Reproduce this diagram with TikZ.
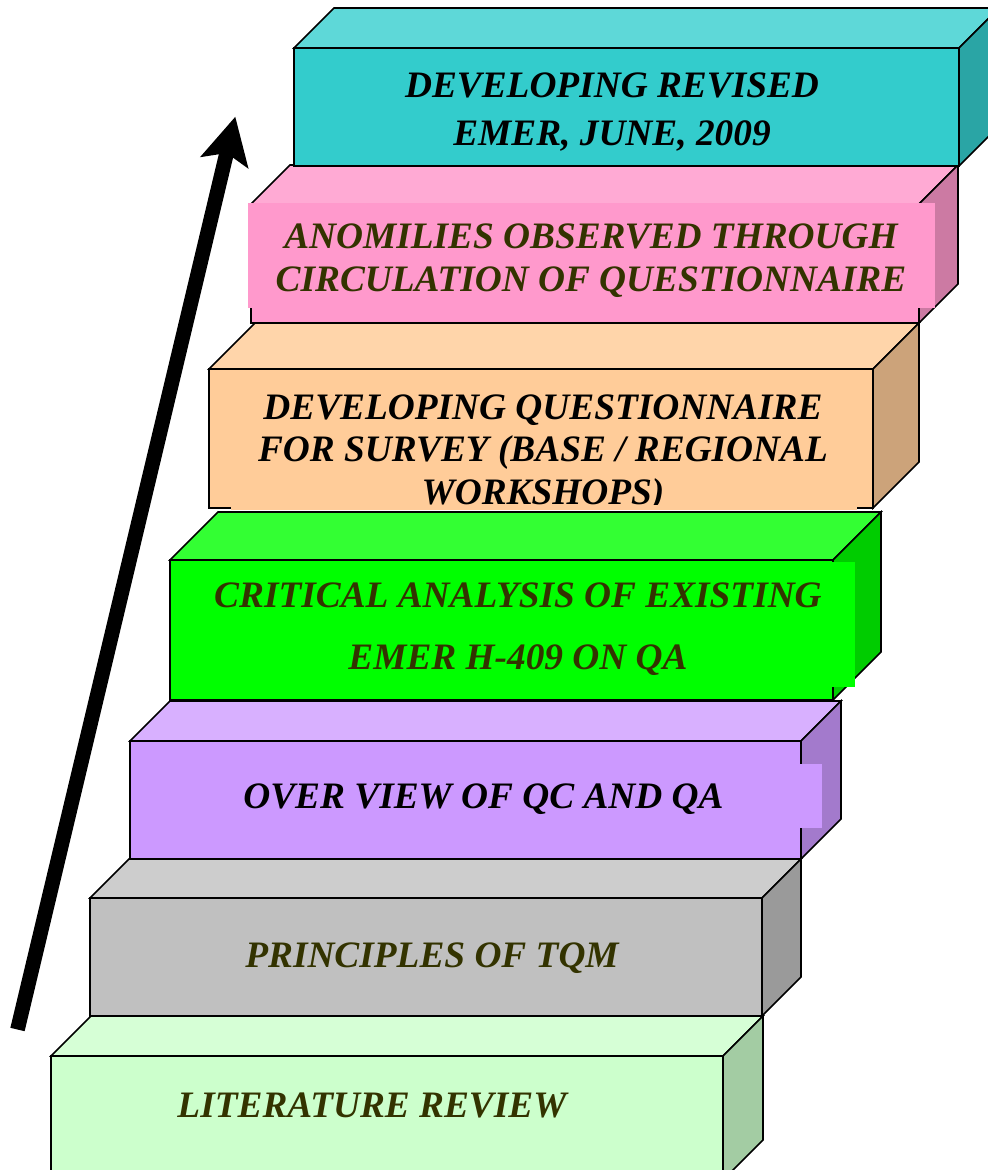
\documentclass[tikz,border=0pt]{standalone}
\usepackage{fontspec}
\setmainfont{Liberation Serif}
\usetikzlibrary{arrows.meta}

% face colours: front / top / side of every step
\definecolor{tealFront}{HTML}{33CCCC}
\definecolor{tealTop}{HTML}{5ED8D8}
\definecolor{tealSide}{HTML}{2AA5A5}
\definecolor{pinkFront}{HTML}{FF99CC}
\definecolor{pinkTop}{HTML}{FFAAD4}
\definecolor{pinkSide}{HTML}{CC7AA3}
\definecolor{peachFront}{HTML}{FFCC99}
\definecolor{peachTop}{HTML}{FFD5AA}
\definecolor{peachSide}{HTML}{CCA37A}
\definecolor{limeFront}{HTML}{00FF00}
\definecolor{limeTop}{HTML}{33FF33}
\definecolor{limeSide}{HTML}{00CC00}
\definecolor{lilacFront}{HTML}{CC99FF}
\definecolor{lilacTop}{HTML}{D8B0FF}
\definecolor{lilacSide}{HTML}{A37ACC}
\definecolor{greyFront}{HTML}{C0C0C0}
\definecolor{greyTop}{HTML}{CDCDCD}
\definecolor{greySide}{HTML}{9A9A9A}
\definecolor{mintFront}{HTML}{CCFFCC}
\definecolor{mintTop}{HTML}{D6FFD6}
\definecolor{mintSide}{HTML}{A3CCA3}
\definecolor{olive}{HTML}{333300}

\tikzset{
  edge/.style={draw=black, line width=1.2pt},
  lbl/.style={align=center, inner sep=0pt},
  climb/.style={line width=11pt, line cap=butt,
    -{Stealth[length=35pt 0 0, width=36pt 0 0, inset=7pt 0 0]}},
}

% one step of the stair: x1 y1 x2 y2 (front face), depth, front/top/side colours
\newcommand\stairblock[8]{%
  \filldraw[edge, fill=#7] (#1,#2) -- ({#1+#5},{#2-#5}) -- ({#3+#5},{#2-#5}) -- (#3,#2) -- cycle;
  \filldraw[edge, fill=#8] (#3,#2) -- ({#3+#5},{#2-#5}) -- ({#3+#5},{#4-#5}) -- (#3,#4) -- cycle;
  \filldraw[edge, fill=#6] (#1,#2) rectangle (#3,#4);
}

\begin{document}
\begin{tikzpicture}[x=0.75pt, y=-0.75pt]
\useasboundingbox (0,0) rectangle (988,1170);
\clip (0,0) rectangle (988,1170);

% steps, from the bottom up
\stairblock{51}{1056}{723}{1180}{40}{mintFront}{mintTop}{mintSide}
\stairblock{90}{898}{762}{1016}{39}{greyFront}{greyTop}{greySide}
\stairblock{130}{741}{801}{859}{40}{lilacFront}{lilacTop}{lilacSide}
\stairblock{170}{560}{833}{700}{48}{limeFront}{limeTop}{limeSide}
\stairblock{209}{369}{873}{508}{46}{peachFront}{peachTop}{peachSide}
\stairblock{251}{204}{919}{323}{39}{pinkFront}{pinkTop}{pinkSide}
\stairblock{294}{48}{959}{166}{40}{tealFront}{tealTop}{tealSide}

% text panels laid over the fronts
\fill[pinkFront] (248,203) rectangle (935,308);
\fill[peachFront] (231,372) rectangle (857,510);
\fill[limeFront] (182,562) rectangle (855,687);
\fill[lilacFront] (145,764) rectangle (822,828);

% labels
\node[lbl, font=\fontsize{28}{36}\selectfont\bfseries\itshape, text=black]
  (revised) at (612,112.5) {DEVELOPING REVISED\\EMER, JUNE, 2009};
\node[lbl, font=\fontsize{28}{32.25}\selectfont\bfseries\itshape, text=olive]
  (anomalies) at (591,261) {ANOMILIES OBSERVED THROUGH\\CIRCULATION OF QUESTIONNAIRE};
\begin{scope}
  \clip (209,369) rectangle (873,504);
  \node[lbl, font=\fontsize{28}{32}\selectfont\bfseries\itshape, text=black]
    (survey) at (543,453.5) {DEVELOPING QUESTIONNAIRE\\FOR SURVEY (BASE / REGIONAL\\WORKSHOPS)};
\end{scope}
\node[lbl, font=\fontsize{28}{47}\selectfont\bfseries\itshape, text=olive]
  (analysis) at (518,629) {CRITICAL ANALYSIS OF EXISTING\\EMER H-409 ON QA};
\node[lbl, font=\fontsize{28}{34}\selectfont\bfseries\itshape, text=black]
  (overview) at (483.5,799.5) {OVER VIEW OF QC AND QA};
\node[lbl, font=\fontsize{28}{34}\selectfont\bfseries\itshape, text=olive]
  (tqm) at (432,958) {PRINCIPLES OF TQM};
\node[lbl, font=\fontsize{28}{34}\selectfont\bfseries\itshape, text=olive]
  (literature) at (372,1105) {LITERATURE REVIEW};

% rising arrow
\coordinate (arrowTail) at (17.5,1029.5);
\coordinate (arrowTip) at (235.3,116.7);
\draw[climb] (arrowTail) -- (arrowTip);
\end{tikzpicture}
\end{document}
